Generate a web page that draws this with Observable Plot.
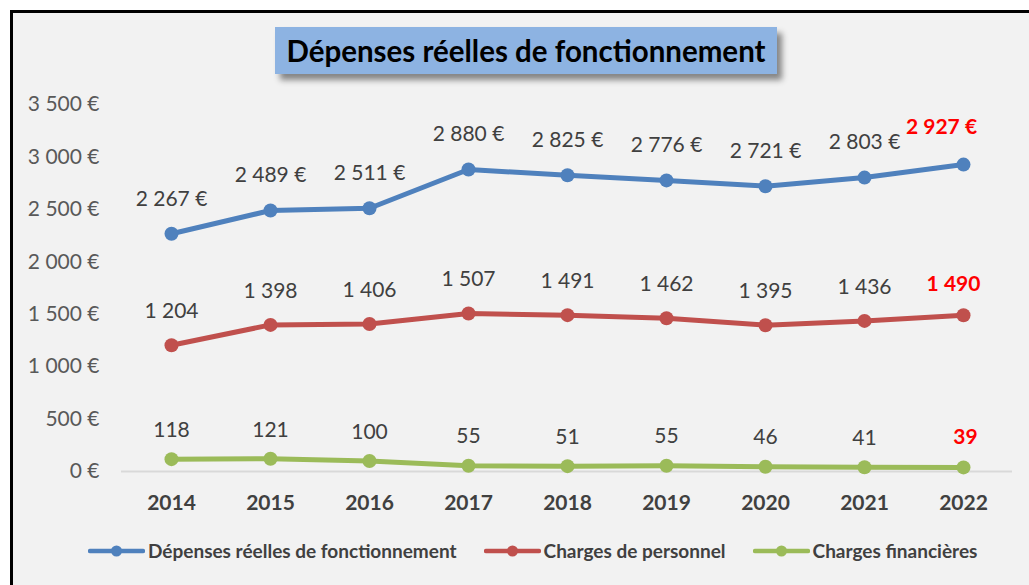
<!DOCTYPE html>
<html>
<head>
<meta charset="utf-8">
<script src="https://cdn.jsdelivr.net/npm/d3@7"></script>
<script src="https://cdn.jsdelivr.net/npm/@observablehq/plot@0.6"></script>
<style>
  html, body { margin: 0; padding: 0; background: #ffffff; }
  #page { position: relative; width: 1029px; height: 585px; overflow: hidden; font-family: Lato, "Open Sans", sans-serif; }
  #frame { position: absolute; left: 10px; top: 10px; width: 1100px; height: 700px; border: 3px solid #000; background: #f2f2f2; box-sizing: border-box; }
  #chart { position: absolute; left: 0; top: 0; }
  #title { position: absolute; left: 275px; top: 27px; width: 502px; height: 47px; background: #8db3e2; box-shadow: 5px 6px 6px rgba(0,0,0,0.45);
           display: flex; align-items: center; justify-content: center; font-weight: bold; font-size: 29.5px; color: #000; font-family: Lato, sans-serif; }
  #legend { position: absolute; left: 88px; top: 539px; display: flex; align-items: center; gap: 27px; font-weight: bold; font-size: 19px; color: #404040; }
  .item { display: flex; align-items: center; }
  .item svg { margin-right: 3px; }
  g[aria-label="y-axis tick label"] text { fill: #595959; }
  g[aria-label="x-axis tick label"] text { fill: #404040; font-weight: bold; }
</style>
</head>
<body>
<div id="page">
  <div id="frame"></div>
  <div id="chart"></div>
  <div id="title">Dépenses réelles de fonctionnement</div>
  <div id="legend"></div>
</div>
<script>
const years = ["2014", "2015", "2016", "2017", "2018", "2019", "2020", "2021", "2022"];
const depenses = [2267, 2489, 2511, 2880, 2825, 2776, 2721, 2803, 2927];
const personnel = [1204, 1398, 1406, 1507, 1491, 1462, 1395, 1436, 1490];
const financieres = [118, 121, 100, 55, 51, 55, 46, 41, 39];
const seriesNames = ["Dépenses réelles de fonctionnement", "Charges de personnel", "Charges financières"];
const seriesColors = ["#4f81bd", "#c0504d", "#9bbb59"];
const yTicks = [0, 500, 1000, 1500, 2000, 2500, 3000, 3500];

const num = v => d3.format(",")(v).replace(/,/g, "\u00a0");
const euro = v => num(v) + "\u00a0€";

const seriesValues = [depenses, personnel, financieres];
const seriesLabelFmt = [euro, num, num];
const seriesDy = [-35, -34, -29];
const lastDx = [-22, -10, 2];
const lastDy = [-37, -31, -30];

const series = seriesValues.map((vals, s) =>
  years.map((y, i) => ({year: y, value: vals[i], label: seriesLabelFmt[s](vals[i]), last: i === years.length - 1}))
);

const marks = [
  Plot.ruleY([0], {stroke: "#d9d9d9", strokeWidth: 2})
];
series.forEach((data, s) => {
  marks.push(Plot.line(data, {x: "year", y: "value", stroke: seriesColors[s], strokeWidth: 5, strokeLinejoin: "round"}));
  marks.push(Plot.dot(data, {x: "year", y: "value", r: 7, fill: seriesColors[s], stroke: "none"}));
  marks.push(Plot.text(data.filter(d => !d.last), {x: "year", y: "value", text: "label", dy: seriesDy[s], fill: "#404040", fontSize: 21, fontFamily: "Lato"}));
  marks.push(Plot.text(data.filter(d => d.last), {x: "year", y: "value", text: "label", dx: lastDx[s], dy: lastDy[s], fill: "#ff0000", fontSize: 21, fontWeight: "bold", fontFamily: "Lato"}));
});
marks.push(Plot.axisY({ticks: yTicks, tickFormat: euro, tickSize: 0, tickPadding: 22, fontSize: 21, label: null}));
marks.push(Plot.axisX({tickSize: 0, tickPadding: 24, fontSize: 21, fontWeight: "bold", label: null}));

const chart = Plot.plot({
  width: 1029,
  height: 585,
  marginLeft: 121,
  marginRight: 17,
  marginTop: 104,
  marginBottom: 114,
  style: {background: "transparent", fontFamily: "Lato, 'Open Sans', sans-serif", overflow: "visible"},
  x: {type: "point", domain: years, padding: 0.5, label: null},
  y: {domain: [0, 3500], label: null},
  marks
});
document.getElementById("chart").appendChild(chart);

const legend = document.getElementById("legend");
seriesNames.forEach((name, s) => {
  const item = document.createElement("div");
  item.className = "item";
  item.innerHTML = `<svg width="57" height="14"><line x1="2" y1="7" x2="55" y2="7" stroke="${seriesColors[s]}" stroke-width="4.5" stroke-linecap="round"/><circle cx="28.5" cy="7" r="5.5" fill="${seriesColors[s]}"/></svg><span>${name}</span>`;
  legend.appendChild(item);
});
</script>
</body>
</html>
